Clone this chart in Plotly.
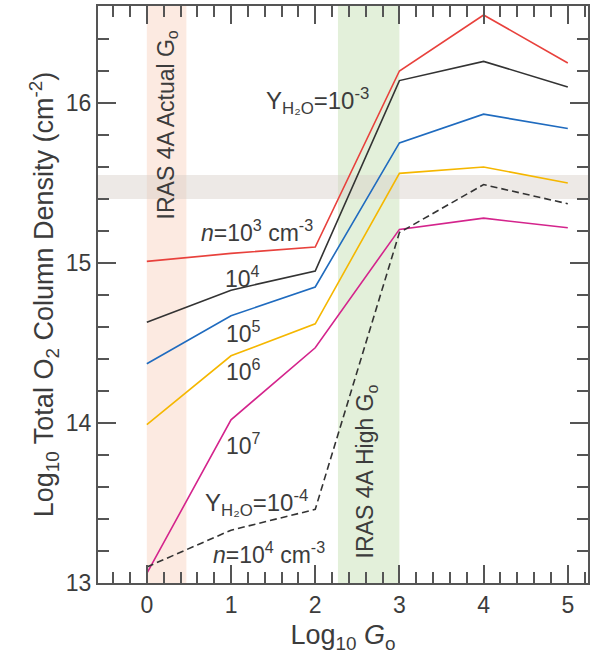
import plotly.graph_objects as go

log_go = [0, 1, 2, 3, 4, 5]
n1e3 = [15.01, 15.06, 15.10, 16.20, 16.55, 16.25]
n1e4 = [14.63, 14.83, 14.95, 16.14, 16.26, 16.10]
n1e5 = [14.37, 14.67, 14.85, 15.75, 15.93, 15.84]
n1e6 = [13.99, 14.42, 14.62, 15.56, 15.60, 15.50]
n1e7 = [13.06, 14.02, 14.47, 15.21, 15.28, 15.22]
yh2o_1e4 = [13.10, 13.33, 13.46, 15.19, 15.49, 15.37]

series = [
    (n1e3, "#e8413c", "solid"),
    (n1e4, "#333333", "solid"),
    (n1e5, "#1f6bbf", "solid"),
    (n1e6, "#f5b700", "solid"),
    (n1e7, "#d4248c", "solid"),
    (yh2o_1e4, "#333333", "dash"),
]

FONT = "Liberation Sans, Arial, sans-serif"
txt = "#3c3c3c"

fig = go.Figure()
for ys, col, dash in series:
    fig.add_trace(go.Scatter(x=log_go, y=ys, mode="lines",
                             line=dict(color=col, width=1.6, dash=dash if dash == "solid" else "7px,4px"),
                             showlegend=False, hoverinfo="skip"))

# bands
fig.add_shape(type="rect", xref="x", yref="paper", x0=0, x1=0.47, y0=0, y1=1,
              fillcolor="rgba(249,214,196,0.5)", line_width=0, layer="below")
fig.add_shape(type="rect", xref="x", yref="paper", x0=2.27, x1=3.0, y0=0, y1=1,
              fillcolor="#e3f0da", line_width=0, layer="below")
fig.add_shape(type="rect", xref="paper", yref="y", x0=0, x1=1, y0=15.40, y1=15.55,
              fillcolor="rgba(214,206,200,0.45)", line_width=0, layer="below")

anns = [
    (0.24, 15.86, "IRAS 4A Actual G<sub>o</sub>", -90, 23),
    (2.62, 13.70, "IRAS 4A High G<sub>o</sub>", -90, 23),
    (2.03, 16.01, "Y<sub>H₂O</sub>=10<sup>-3</sup>", 0, 24),
    (1.31, 15.20, "<i>n</i>=10<sup>3</sup> cm<sup>-3</sup>", 0, 23),
    (1.14, 14.91, "10<sup>4</sup>", 0, 23),
    (1.15, 14.57, "10<sup>5</sup>", 0, 23),
    (1.15, 14.33, "10<sup>6</sup>", 0, 23),
    (1.15, 13.87, "10<sup>7</sup>", 0, 23),
    (1.30, 13.50, "Y<sub>H₂O</sub>=10<sup>-4</sup>", 0, 24),
    (1.45, 13.19, "<i>n</i>=10<sup>4</sup> cm<sup>-3</sup>", 0, 23),
]
for x, y, t, ang, sz in anns:
    fig.add_annotation(x=x, y=y, xref="x", yref="y", text=t, showarrow=False,
                       textangle=ang, font=dict(size=sz, color=txt, family=FONT))

axis_common = dict(
    showline=True, linecolor="#555555", linewidth=2, mirror="ticks",
    ticks="inside", ticklen=18, tickwidth=1.5, tickcolor="#555555",
    showgrid=False, zeroline=False, automargin=False,
    tickfont=dict(size=23, color=txt, family=FONT),
)

fig.update_xaxes(range=[-0.58, 5.24], dtick=1, tick0=0,
                 minor=dict(ticks="inside", ticklen=11, dtick=0.2, tickcolor="#555555", tickwidth=1.5),
                 title=dict(text="Log<sub>10</sub> <i>G</i><sub>o</sub>", standoff=9,
                            font=dict(size=27, color=txt, family=FONT)),
                 **axis_common)
fig.update_yaxes(range=[13, 16.606], dtick=1, tick0=13,
                 minor=dict(ticks="inside", ticklen=11, dtick=0.2, tickcolor="#555555", tickwidth=1.5),
                 title=dict(text="Log<sub>10</sub> Total O<sub>2</sub> Column Density (cm<sup>-2</sup>)",
                            standoff=4,
                            font=dict(size=27, color=txt, family=FONT)),
                 **axis_common)

fig.update_layout(width=600, height=659, margin=dict(l=98, r=12, t=6, b=76),
                  paper_bgcolor="white", plot_bgcolor="white")
fig.write_html("out.html")
